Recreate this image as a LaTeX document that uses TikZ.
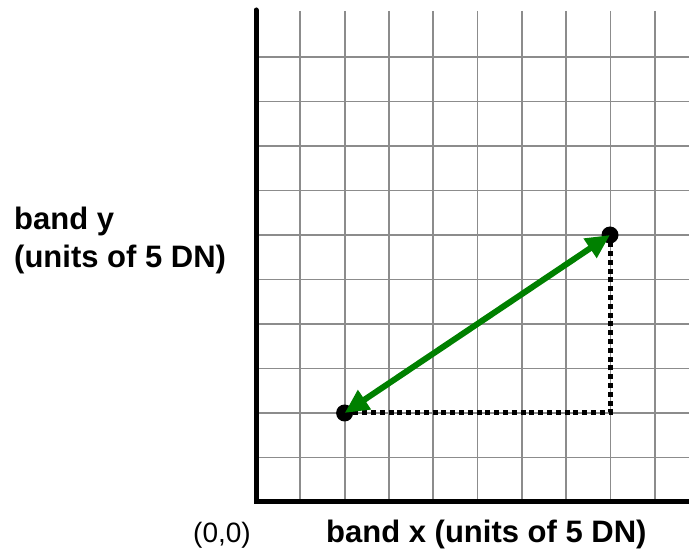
\documentclass[tikz,border=0pt]{standalone}
\usepackage{fontspec}
\setmainfont{Liberation Sans}
\usetikzlibrary{arrows.meta}
\definecolor{arrowgreen}{RGB}{0,128,0}
\definecolor{gridgray}{RGB}{140,140,140}
\begin{document}
\begin{tikzpicture}[x=1pt,y=-1pt,
  gridline/.style={draw=gridgray, line width=1.8pt},
  axisline/.style={draw=black, line width=5pt, line cap=round, line join=miter},
  dot/.style={circle, fill=black, inner sep=0pt, minimum size=17pt},
  dotline/.style={draw=black, line width=5pt, dash pattern=on 5pt off 3.8pt},
  vec/.style={draw=arrowgreen, line width=6pt, {Triangle[length=24pt,width=22pt]}-{Triangle[length=24pt,width=22pt]}},
  lbl/.style={font=\bfseries\fontsize{31}{35}\selectfont, anchor=base west, inner sep=0pt},
  plainlbl/.style={font=\fontsize{28}{32}\selectfont, anchor=base west, inner sep=0pt}
]
\useasboundingbox (0,0) rectangle (689,553);
\foreach \k in {1,...,9} \draw[gridline] ({256+44.3*\k},11) -- ({256+44.3*\k},502);
\foreach \k in {1,...,10} \draw[gridline] (256,{502-44.5*\k}) -- (689,{502-44.5*\k});
\draw[axisline] (256,10) -- (256,502) -- (692,502);
\node[dot] (A) at (344.6,413) {};
\node[dot] (B) at (610,235) {};
\coordinate (C) at (610,413);
\draw[dotline] (A.center) -- (C) -- (B.center);
\draw[vec] (A.center) -- (B.center);
\node[lbl] (ylab1) at (14,230) {band y};
\node[lbl] (ylab2) at (14,268) {(units of 5 DN)};
\node[lbl] (xlab) at (326,543) {band x (units of 5 DN)};
\node[plainlbl] (orig) at (193,543) {(0,0)};
\end{tikzpicture}
\end{document}
